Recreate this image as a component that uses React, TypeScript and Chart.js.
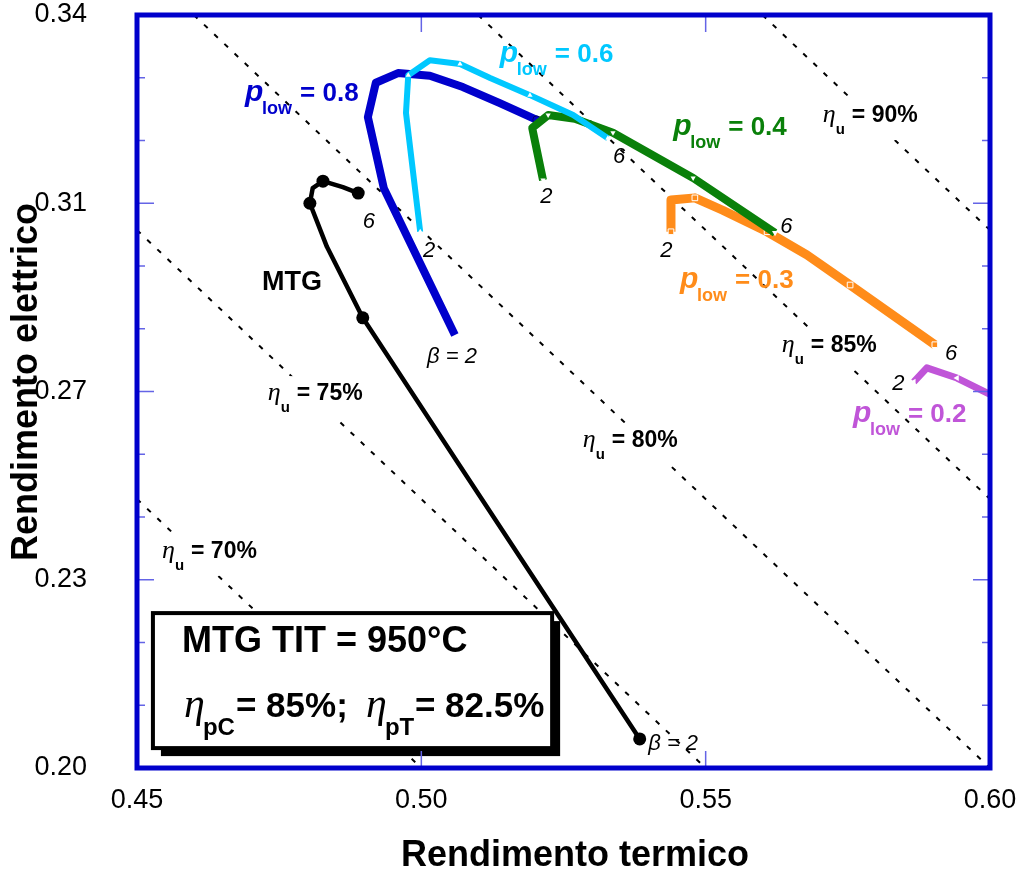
import React, { useEffect, useRef } from 'react';
import { Chart, registerables } from 'chart.js';
Chart.register(...registerables);

const FONT = '"Liberation Sans", Arial, Helvetica, sans-serif';
const SERIF = '"Liberation Serif", "Times New Roman", serif';

// ---- axes ----
const xTitle = 'Rendimento termico';
const yTitle = 'Rendimento elettrico';
const xTicks = [0.45, 0.5, 0.55, 0.6];
const xTickLabels = ['0.45', '0.50', '0.55', '0.60'];
const yTicks = [0.2, 0.235, 0.27, 0.305, 0.34];
const yTickLabels = ['0.20', '0.23', '0.27', '0.31', '0.34'];

// ---- series (x = rendimento termico, y = rendimento elettrico) ----
const mtgX = [0.5384, 0.5059, 0.4897, 0.4834, 0.4804, 0.4809, 0.4827, 0.4862, 0.4889];
const mtgY = [0.2054, 0.2576, 0.2837, 0.2969, 0.305, 0.3078, 0.3091, 0.308, 0.3069];

const p08X = [0.5059, 0.4934, 0.4906, 0.492, 0.4959, 0.5015, 0.5073, 0.5138, 0.5203];
const p08Y = [0.2805, 0.3078, 0.321, 0.3274, 0.3292, 0.3287, 0.3266, 0.3236, 0.3205];

const p06X = [0.4998, 0.4973, 0.4977, 0.5015, 0.5068, 0.5121, 0.5191, 0.5267, 0.5328];
const p06Y = [0.2997, 0.3218, 0.3288, 0.3316, 0.3309, 0.3283, 0.3251, 0.3214, 0.3171];

const p04X = [0.5214, 0.5195, 0.5223, 0.527, 0.5337, 0.5478, 0.5622];
const p04Y = [0.3093, 0.319, 0.3214, 0.3207, 0.3181, 0.3097, 0.2995];

const p03X = [0.5439, 0.5439, 0.5481, 0.553, 0.5608, 0.5678, 0.5754, 0.5903];
const p03Y = [0.2997, 0.3056, 0.306, 0.3037, 0.2997, 0.2954, 0.2898, 0.2787];

const p02X = [0.5866, 0.5889, 0.5942, 0.6009];
const p02Y = [0.2718, 0.2744, 0.2725, 0.269];

// iso-efficiency lines (eta_u = const), end points
const isoLabels = ['70%', '75%', '80%', '85%', '90%'];
const isoX = [[0.45, 0.5], [0.45, 0.55], [0.46, 0.6], [0.51, 0.6], [0.56, 0.6]];
const isoY = [[0.25, 0.2], [0.3, 0.2], [0.34, 0.2], [0.34, 0.25], [0.34, 0.3]];

// ---- annotations (data coordinates) ----
const isoLabelX = [0.4544, 0.473, 0.5284, 0.5634, 0.5706];
const isoLabelY = [0.2391, 0.2684, 0.2597, 0.2773, 0.3201];

const pLowValues = ['0.8', '0.6', '0.4', '0.3', '0.2'];
const pLowLabelX = [0.469, 0.5138, 0.5443, 0.5455, 0.5759];
const pLowLabelY = [0.324, 0.3313, 0.3177, 0.2892, 0.2643];

const betaTexts = ['6', '2', 'β = 2', '2', '6', '6', '2', '6', '2', 'β = 2'];
const betaX = [0.4897, 0.5003, 0.501, 0.5209, 0.5337, 0.5631, 0.542, 0.5921, 0.5828, 0.5399];
const betaY = [0.3004, 0.295, 0.2753, 0.305, 0.3125, 0.2995, 0.295, 0.2759, 0.2703, 0.2034];

const boxX = [0.4528, 0.523];
const boxY = [0.2288, 0.2037];

const C_DBLUE = '#0000CC';
const C_LBLUE = '#00C8FF';
const C_GREEN = '#0A800A';
const C_ORANGE = '#FF8C1A';
const C_PURPLE = '#C055D8';
const pLowColors = [C_DBLUE, C_LBLUE, C_GREEN, C_ORANGE, C_PURPLE];

const pts = (xs: number[], ys: number[]) => xs.map((x, i) => ({ x, y: ys[i] }));

type Part = { t: string; f: string; dx: number; dy: number };
function drawRich(ctx: CanvasRenderingContext2D, x: number, y: number, parts: Part[], color: string) {
  ctx.fillStyle = color;
  ctx.textAlign = 'left';
  ctx.textBaseline = 'alphabetic';
  for (const p of parts) {
    ctx.font = p.f;
    ctx.fillText(p.t, x + p.dx, y + p.dy);
  }
}

const etaParts = (v: string): Part[] => [
  { t: 'η', f: `italic 26px ${SERIF}`, dx: 0, dy: 0 },
  { t: 'u', f: `bold 15px ${FONT}`, dx: 13, dy: 12 },
  { t: '= ' + v, f: `bold 23px ${FONT}`, dx: 29, dy: 0 },
];
const pParts = (v: string): Part[] => [
  { t: 'p', f: `italic bold 30px ${FONT}`, dx: 0, dy: 0 },
  { t: 'low', f: `bold 18px ${FONT}`, dx: 17, dy: 13 },
  { t: '= ' + v, f: `bold 26px ${FONT}`, dx: 55, dy: 0 },
];

const ISO_TOP_INDEX = 6;

const overlay = {
  id: 'overlay',
  afterDatasetDraw(chart: any, args: any) {
    if (args.index !== ISO_TOP_INDEX) return;
    const ctx: CanvasRenderingContext2D = chart.ctx;
    const xs = chart.scales.x;
    const ys = chart.scales.y;
    ctx.save();
    // eta_u labels with white background
    isoLabels.forEach((lab, i) => {
      const px = xs.getPixelForValue(isoLabelX[i]);
      const py = ys.getPixelForValue(isoLabelY[i]);
      ctx.font = `bold 23px ${FONT}`;
      const w = 29 + ctx.measureText('= ' + lab).width;
      ctx.fillStyle = '#fff';
      ctx.fillRect(px - 6, py - 24, w + 12, 42);
      drawRich(ctx, px, py, etaParts(lab), '#000');
    });
    // text box with shadow
    const bl = xs.getPixelForValue(boxX[0]);
    const br = xs.getPixelForValue(boxX[1]);
    const bt = ys.getPixelForValue(boxY[0]);
    const bb = ys.getPixelForValue(boxY[1]);
    ctx.fillStyle = '#000';
    ctx.fillRect(bl + 8, bt + 8, br - bl, bb - bt);
    ctx.fillStyle = '#fff';
    ctx.fillRect(bl, bt, br - bl, bb - bt);
    ctx.strokeStyle = '#000';
    ctx.lineWidth = 4;
    ctx.strokeRect(bl, bt, br - bl, bb - bt);
    drawRich(ctx, bl, bt, [{ t: 'MTG TIT = 950°C', f: `bold 36px ${FONT}`, dx: 29, dy: 39 }], '#000');
    drawRich(ctx, bl, bt + 104, [
      { t: 'η', f: `italic 42px ${SERIF}`, dx: 31, dy: 0 },
      { t: 'pC', f: `bold 24px ${FONT}`, dx: 50, dy: 18 },
      { t: '= 85%;', f: `bold 35px ${FONT}`, dx: 83, dy: 0 },
      { t: 'η', f: `italic 42px ${SERIF}`, dx: 213, dy: 0 },
      { t: 'pT', f: `bold 24px ${FONT}`, dx: 232, dy: 18 },
      { t: '= 82.5%', f: `bold 35px ${FONT}`, dx: 262, dy: 0 },
    ], '#000');
    ctx.restore();
  },
  afterDraw(chart: any) {
    const ctx: CanvasRenderingContext2D = chart.ctx;
    const xs = chart.scales.x;
    const ys = chart.scales.y;
    const { left, right, top, bottom } = chart.chartArea;
    ctx.save();
    // axis titles
    ctx.fillStyle = '#000';
    ctx.font = `bold 36px ${FONT}`;
    ctx.textAlign = 'center';
    ctx.textBaseline = 'alphabetic';
    ctx.fillText(xTitle, 575, 866);
    ctx.save();
    ctx.translate(37, 382);
    ctx.rotate(-Math.PI / 2);
    ctx.fillText(yTitle, 0, 0);
    ctx.restore();

    // text labels
    pLowValues.forEach((v, i) => {
      drawRich(ctx, xs.getPixelForValue(pLowLabelX[i]), ys.getPixelForValue(pLowLabelY[i]), pParts(v), pLowColors[i]);
    });
    betaTexts.forEach((t, i) => {
      drawRich(ctx, xs.getPixelForValue(betaX[i]), ys.getPixelForValue(betaY[i]),
        [{ t, f: `italic 22px ${FONT}`, dx: 0, dy: 0 }], '#000');
    });
    drawRich(ctx, xs.getPixelForValue(0.472), ys.getPixelForValue(0.2889),
      [{ t: 'MTG', f: `bold 27px ${FONT}`, dx: 0, dy: 0 }], '#000');

    // inner ticks
    ctx.strokeStyle = '#6464E6';
    ctx.lineWidth = 1.5;
    ctx.beginPath();
    for (let i = 0; i < yTicks.length; i++) {
      const py = ys.getPixelForValue(yTicks[i]);
      ctx.moveTo(left, py); ctx.lineTo(left + 17, py);
      ctx.moveTo(right, py); ctx.lineTo(right - 17, py);
      if (i < yTicks.length - 1) {
        for (let k = 1; k < 3; k++) {
          const v = yTicks[i] + ((yTicks[i + 1] - yTicks[i]) * k) / 3;
          const pm = ys.getPixelForValue(v);
          ctx.moveTo(left, pm); ctx.lineTo(left + 8, pm);
          ctx.moveTo(right, pm); ctx.lineTo(right - 8, pm);
        }
      }
    }
    for (let i = 1; i < xTicks.length - 1; i++) {
      const px = xs.getPixelForValue(xTicks[i]);
      ctx.moveTo(px, top); ctx.lineTo(px, top + 17);
      ctx.moveTo(px, bottom); ctx.lineTo(px, bottom - 17);
    }
    ctx.stroke();
    // frame
    ctx.strokeStyle = C_DBLUE;
    ctx.lineWidth = 5;
    ctx.strokeRect(left, top, right - left, bottom - top);
    ctx.restore();
  },
};

function makeConfig(): any {
  const line = (data: any, color: string, width: number, extra: any = {}) => ({
    data,
    showLine: true,
    borderColor: color,
    backgroundColor: color,
    borderWidth: width,
    borderJoinStyle: 'round',
    borderCapStyle: 'butt',
    tension: 0,
    pointRadius: 0,
    pointHoverRadius: 0,
    ...extra,
  });
  const datasets: any[] = [
    line(pts(mtgX, mtgY), '#000', 4.5, {
      pointRadius: [6.5, 0, 6.5, 0, 6.5, 0, 6.5, 0, 6.5],
      pointBackgroundColor: '#000',
      pointBorderWidth: 0,
    }),
    line(pts(p06X, p06Y), C_LBLUE, 6, {
      pointRadius: [3, 0, 3, 0, 3, 0, 3, 0, 3],
      pointStyle: 'triangle',
      pointBackgroundColor: '#fff',
      pointBorderColor: '#fff',
      pointBorderWidth: 0,
    }),
    line(pts(p04X, p04Y), C_GREEN, 8, {
      pointRadius: [3, 0, 3, 0, 3, 3, 3.5],
      pointStyle: 'triangle',
      pointRotation: 180,
      pointBackgroundColor: '#fff',
      pointBorderColor: '#fff',
      pointBorderWidth: 0,
    }),
    line(pts(p08X, p08Y), C_DBLUE, 8, {
      pointRadius: [0, 0, 0, 0, 0, 0, 0, 0, 4],
      pointBackgroundColor: C_DBLUE,
      pointBorderColor: '#000066',
      pointBorderWidth: 1,
    }),
    line(pts(p03X, p03Y), C_ORANGE, 9, {
      pointRadius: [4, 0, 4, 0, 4, 0, 4, 4],
      pointStyle: 'rect',
      pointBackgroundColor: C_ORANGE,
      pointBorderColor: '#fff',
      pointBorderWidth: 1,
    }),
    line(pts(p02X, p02Y), C_PURPLE, 7, {
      pointRadius: [3.5, 0, 3.5, 0],
      pointStyle: 'triangle',
      pointRotation: -90,
      pointBackgroundColor: '#fff',
      pointBorderColor: '#fff',
      pointBorderWidth: 0,
    }),
  ];
  isoX.forEach((xsArr, i) => {
    datasets.push(line(pts(xsArr, isoY[i]), '#000', 2, { borderDash: [5, 9] }));
  });

  return {
    type: 'scatter',
    data: { datasets },
    plugins: [overlay],
    options: {
      animation: false,
      responsive: false,
      devicePixelRatio: 1,
      layout: { padding: { top: 15, right: 26, left: 0, bottom: 0 } },
      plugins: { legend: { display: false }, tooltip: { enabled: false } },
      scales: {
        x: {
          type: 'linear',
          min: 0.45,
          max: 0.6,
          grid: { display: false, drawTicks: false },
          border: { display: false },
          afterBuildTicks: (s: any) => { s.ticks = xTicks.map((v) => ({ value: v })); },
          afterFit: (s: any) => {
            s.height = 107;
            s.paddingLeft = 0; s.paddingRight = 0; s.paddingTop = 0; s.paddingBottom = 0;
          },
          ticks: {
            callback: (_v: any, i: number) => xTickLabels[i],
            font: { size: 27, family: FONT, lineHeight: 1 },
            color: '#000',
            padding: 19,
            maxRotation: 0,
            autoSkip: false,
          },
          title: { display: false },
        },
        y: {
          type: 'linear',
          min: 0.2,
          max: 0.34,
          grid: { display: false, drawTicks: false },
          border: { display: false },
          afterBuildTicks: (s: any) => { s.ticks = yTicks.map((v) => ({ value: v })); },
          afterFit: (s: any) => {
            s.width = 137;
            s.paddingLeft = 0; s.paddingRight = 0; s.paddingTop = 0; s.paddingBottom = 0;
          },
          ticks: {
            callback: (_v: any, i: number) => yTickLabels[i],
            font: { size: 27, family: FONT, lineHeight: 1 },
            color: '#000',
            padding: 50,
            autoSkip: false,
          },
          title: { display: false },
        },
      },
    },
  };
}

export default function App() {
  const ref = useRef<HTMLCanvasElement>(null);
  useEffect(() => {
    const canvas = ref.current;
    if (!canvas) return;
    const chart = new Chart(canvas, makeConfig());
    return () => chart.destroy();
  }, []);
  return (
    <div style={{ position: 'absolute', left: 0, top: 0, width: 1016, height: 875, background: '#fff' }}>
      <canvas ref={ref} width={1016} height={875} style={{ display: 'block', width: 1016, height: 875 }} />
    </div>
  );
}
